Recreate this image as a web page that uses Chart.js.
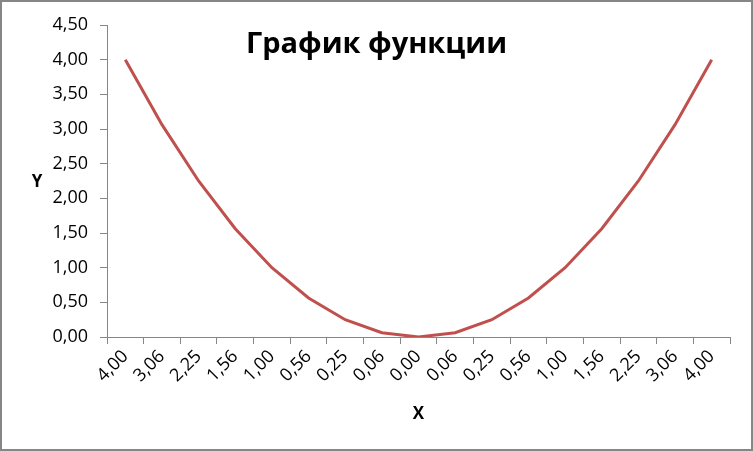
<!DOCTYPE html>
<html>
<head>
<meta charset="utf-8">
<script src="https://cdn.jsdelivr.net/npm/chart.js@4"></script>
<style>
  body { margin: 0; background: #fff; }
  canvas { display: block; }
</style>
</head>
<body>
<canvas id="chart" width="753" height="451"></canvas>
<script>
// category labels as shown under the x axis
const xLabels = ['4,00', '3,06', '2,25', '1,56', '1,00', '0,56', '0,25', '0,06', '0,00',
                 '0,06', '0,25', '0,56', '1,00', '1,56', '2,25', '3,06', '4,00'];
// y values of the curve
const yValues = [4, 3.0625, 2.25, 1.5625, 1, 0.5625, 0.25, 0.0625, 0,
                 0.0625, 0.25, 0.5625, 1, 1.5625, 2.25, 3.0625, 4];
const titleText = 'График функции';
const xTitle = 'X';
const yTitle = 'Y';

const FONT = '"Open Sans", "Liberation Sans", sans-serif';
const AXIS = '#868686';

// draws the outer frame, chart title and the two axis titles
const labelsPlugin = {
  id: 'labels',
  afterDraw(chart) {
    const ctx = chart.ctx;
    const area = chart.chartArea;
    ctx.save();
    ctx.strokeStyle = AXIS;
    ctx.lineWidth = 2;
    ctx.strokeRect(1, 1, chart.width - 2, chart.height - 2);

    ctx.fillStyle = '#000';
    ctx.textAlign = 'center';
    ctx.textBaseline = 'middle';
    ctx.font = 'bold 29px ' + FONT;
    ctx.fillText(titleText, chart.width / 2, 45);

    ctx.font = 'bold 17px ' + FONT;
    ctx.fillText(yTitle, 37, 182);
    ctx.fillText(xTitle, (area.left + area.right) / 2, 414);
    ctx.restore();
  }
};

const ctx = document.getElementById('chart').getContext('2d');
const chart = new Chart(ctx, {
  type: 'line',
  data: {
    labels: xLabels,
    datasets: [{
      data: yValues,
      borderColor: '#C0504D',
      borderWidth: 3,
      pointRadius: 0,
      tension: 0,
      fill: false
    }]
  },
  options: {
    responsive: false,
    animation: false,
    layout: { padding: { top: 25, right: 23, bottom: 0, left: 0 } },
    plugins: {
      legend: { display: false },
      tooltip: { enabled: false }
    },
    scales: {
      x: {
        offset: true,
        grid: { offset: true, drawOnChartArea: false, tickLength: 7, color: AXIS },
        border: { color: AXIS },
        ticks: {
          color: '#000',
          font: { family: FONT, size: 18 },
          minRotation: 45,
          maxRotation: 45,
          autoSkip: false,
          padding: 2
        },
        afterFit(scale) { scale.height = 114; }
      },
      y: {
        min: 0,
        max: 4.5,
        grid: { drawOnChartArea: false, tickLength: 7, color: AXIS },
        border: { color: AXIS },
        ticks: {
          stepSize: 0.5,
          color: '#000',
          font: { family: FONT, size: 18 },
          padding: 12,
          callback: v => v.toFixed(2).replace('.', ',')
        },
        afterFit(scale) { scale.width = 107; }
      }
    }
  },
  plugins: [labelsPlugin]
});
</script>
</body>
</html>
